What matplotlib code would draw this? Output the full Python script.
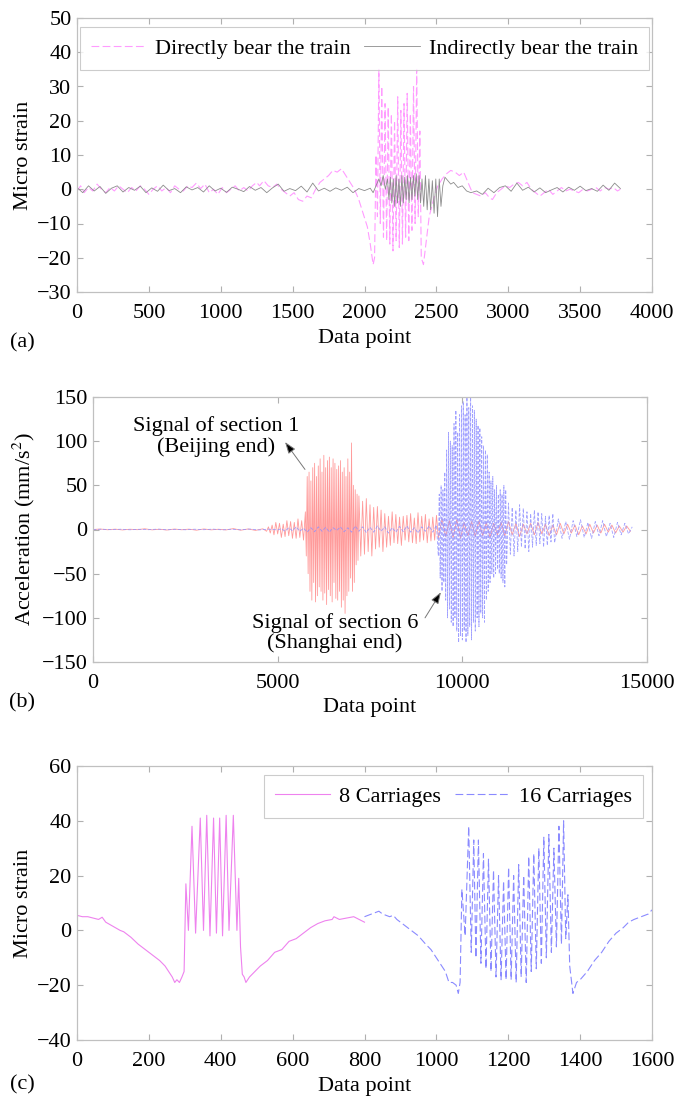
import numpy as np
import matplotlib
matplotlib.use("Agg")
import matplotlib.pyplot as plt

plt.rcParams['font.family'] = ['Liberation Serif', 'DejaVu Serif']
plt.rcParams['mathtext.fontset'] = 'stix'
FS = 16

# ---------------- Panel (a) data ----------------
a_direct_x = [0, 25, 50, 80, 110, 140, 170, 200, 230, 260, 290, 320, 350, 380, 410, 440, 470, 500, 530, 560,
              590, 620, 650, 680, 710, 740, 770, 800, 830, 860, 890, 920, 950, 980, 1010, 1040, 1070, 1100,
              1130, 1160, 1190, 1220, 1250, 1270, 1300, 1330, 1360, 1390, 1420, 1450, 1480, 1510, 1540, 1570,
              1600, 1630, 1660, 1690, 1720, 1750, 1780, 1810, 1840, 1870, 1900, 1930, 1960, 1990, 2020, 2040,
              2060, 2070, 2080, 2090, 2100, 2110, 2120, 2132, 2143, 2154, 2165, 2176, 2187, 2198, 2209, 2220,
              2231, 2242, 2253, 2264, 2275, 2286, 2297, 2308, 2319, 2330, 2341, 2352, 2363, 2374, 2385, 2395,
              2410, 2430, 2450, 2480, 2510, 2540, 2570, 2600, 2630, 2660, 2690, 2720, 2750, 2780, 2810, 2840,
              2870, 2890, 2920, 2950, 2980, 3010, 3040, 3070, 3100, 3130, 3160, 3190, 3220, 3250, 3280, 3310,
              3340, 3370, 3400, 3430, 3460, 3490, 3520, 3550, 3580, 3610, 3640, 3670, 3700, 3730, 3760, 3780]
a_direct_y = [-0.5, 1, -1, 0.5, -0.5, 1.5, 0, -1, 0.5, -0.5, 1, 0, -1, 0.5, -0.5, 1, 0, -1.5, 0, 1,
              -0.5, 0.5, -1, 1, 0, -0.5, 1, 0.5, 1.8, 0.2, 1.5, -1, 0, -1.5, 0.5, -1, 0, 1,
              -0.5, 0.5, -0.5, 1, 2, 1, 2.5, 1, 0.5, 1.5, 0, -1, -2, -1, -3, -3.5,
              -2, -2.5, 0, 2, 3, 4, 5.5, 5, 6, 4, 2, 0, -3, -7, -11, -16,
              -22, -20, 10, -8, 35, -10, 30, -14, 25, -15, 24, -16, 22, -18, 20, -15,
              27, -17, 23, -16, 25, -14, 28, -15, 22, -12, 30, -10, 35, -8, 17, -20,
              -22, -15, -8, -3, 1, 3, 4.5, 5.5, 5, 4, 5, 2, -1, -1.5, -2, -1,
              -2.5, -3, -1, 0, 1, 0.5, 1.5, 2, 1, 2, 0, -1, -2, -1, 0, -1.5,
              -0.5, 0.5, -0.5, 0, -0.5, -1, 0, -0.5, 0, 0.5, -0.5, 0.5, 0, 0.5, -0.5, 0]

a_indirect_x = list(range(0, 2041, 40)) + [
    2060, 2080, 2100, 2115, 2130, 2145, 2160, 2170, 2180, 2190, 2200, 2210, 2220, 2230, 2240, 2250,
    2260, 2270, 2280, 2290, 2300, 2310, 2320, 2330, 2340, 2350, 2360, 2370, 2380, 2390, 2400, 2412,
    2424, 2436, 2448, 2460, 2472, 2484, 2496, 2508, 2520, 2532, 2545, 2560, 2580, 2600, 2620, 2650,
    2680, 2710, 2740] + list(range(2780, 3781, 40))
a_indirect_y = [0.5, -1, 1, -0.5, 0.8, -1.2, 0.3, 1, -0.8, 0.5, -0.3, 0.9, -1, 0.4, -0.6, 1.2, -0.4, 0.2,
                -1, 0.7, -0.2, 0.5, -0.8, 1, -0.5, 0.3, -0.9, 0.6, 0, -0.7, 0.8, -0.3, 0.5, -1, 0.4, 1.5,
                -0.6, 0.2, -0.4, 0.9, -0.8, 1.8, -0.5, 0.3, -0.6, 0.4, -0.3, 0.6, -1, 0.2, -0.4, 0.3] + [
    -1, 1, 3, 1, 4, 0, 3, -3, 3.5, -4, 3, -5, 4, -4, 3, -5,
    4, -4, 3.5, -3, 4, -4, 3.5, -3, 4, -2, 4.5, -3, 4, -4, 3, -5,
    4, -6, 3, -6, 2.5, -7, 3, -8, 3, -5, 1, 3.5, 2.5, 1.5, 2, 0.5,
    1, -0.5, -1] + [-0.5, -1.5, 0.3, -1, 0.5, 1, -0.6, 1.8, -0.3, 0.6, -0.8, 0.4, -1, -0.2, 0.5,
                    -0.8, 0.6, -0.3, 0.9, -0.4, 0.2, -0.6, 1.2, -0.3, 1.8, 0.2]

# ---------------- Panel (b) data (segments: start, step, values) ----------------
b_sec1_segments = [
    (0, 200, [0, 0.5, -0.3, 0.4, -0.5, 0.3, -0.2, 0.8, -0.4, 0.3, -0.6, 0.5, -0.3, 0.4, -0.8, 0.6,
              -0.4, 0.3, -0.5, 1, -0.8, 0.6, -1, 0.8]),
    (4700, 50, [-2, 3, -4, 5, -6, 8, -5, 7, -9, 6, -8, 10, -7, 9, -10, 8, -10, 12, -9, 10, -12]),
    (5750, 25, [20, -30, 60, -50, 65, -70, 55, -80, 70, -60, 75, -82, 60, -75, 72, -65, 80, -70, 65, -80,
                84, -72, 70, -85, 78, -68, 82, -75, 70, -82, 80, -60, 75, -78, 68, -80, 72, -70, 78, -88,
                65, -80, 70, -95, 60, -75, 80, -70, 65, -55, 98, -70, 50, -60, 45, -40, 40, -35, 38]),
    (7250, 50, [-30, 32, -28, 35, -25, 28, -30, 25, -22, 26, -20, 22, -25, 18, -20, 15, -18, 20, -15, 17,
                -16, 14, -18, 15, -12, 16, -14, 18, -15, 13, -16, 19, -14, 15, -12, 17, -15, 12, -13, 14,
                -12, 16]),
    (9350, 100, [-10, 12, -8, 10, -9, 11, -10, 8, -7, 9, -8, 10, -7, 8, -9, 7, -6, 8, -7, 9, -6, 7, -8, 6,
                 -5, 7, -6, 8, -5, 6, -7, 5, -6, 7, -5, 6, -4, 5, -6, 4, -5, 6, -4, 5, -4, 6, -3, 5, -4,
                 4, -3, 4, -2]),
]
b_sec6_segments = [
    (0, 250, [0, 0.3, -0.2, 0.3, -0.3, 0.2, -0.2, 0.4, -0.3, 0.2, -0.3, 0.3, -0.2, 0.4, -0.4, 0.3, -0.3,
              0.5, -0.5, 0.4, -0.5]),
    (5100, 100, [1, -2, 2, -1.5, 3, -2, 1.5, -3, 2, -2.5, 3, -2, 2.5, -3, 2, -1, 3, -2.5, 2, -3, 4, -2, 3,
                 -3.5, 2.5, -3, 4, -2, 3, -4, 2, -3, 3.5, -2.5, 4, -3, 2, -4, 3, -2, 4, -3, 5]),
    (9350, 25, [-30, 40, -55, 50, -70, 45, -60, 65, -80, 90, -100, 110, -90, 100, -105, 95, -110, 120, -100,
                135, -115, 110, -128, 130, -120, 140, -125, 145, -115, 130, -128, 150, -120, 138, -110, 150,
                -125, 140, -105, 135, -115, 125, -100, 118, -110, 115, -95, 105, -100, 95, -105, 90, -80, 85,
                -70, 65, -60, 55, -50, 60, -55, 45, -50, 50, -45, 40, -50, 45, -55, 40, -60, 50, -65, 45, -40]),
    (11250, 50, [30, -28, 25, -30, 22, -25, 28, -20, 24, -22, 20, -25, 18, -20, 22, -18, 20, -16, 18, -20,
                 15, -18, 16, -14, 18, -15]),
    (12600, 100, [12, -10, 9, -11, 10, -8, 11, -9, 8, -10, 9, -7, 10, -8, 7, -9, 8, -6, 7, -5, 3]),
]

# ---------------- Panel (c) data ----------------
c_8_x = [0, 15, 30, 45, 60, 70, 80, 100, 120, 130, 150, 170, 190, 210, 230, 245, 255, 265, 272, 278, 285,
         292, 298, 303, 310, 320, 330, 343, 352, 361, 370, 380, 388, 397, 405, 415, 423, 435, 445, 450, 455,
         460, 465, 470, 480, 495, 510, 530, 550, 570, 590, 610, 630, 650, 670, 690, 710, 715, 730, 750, 770,
         785, 800]
c_8_y = [5.5, 5, 5, 4.5, 4, 4.8, 3, 1.5, 0, -0.5, -2.5, -5, -7, -9, -11, -13, -15, -17, -19, -18, -19,
         -17, -15, 17, 0, 38, -1, 41, 0, 42, -2, 41, -1, 41, -2, 42, 0, 42, 0, 19, -6,
         -16, -17, -19, -17, -15, -13, -11, -8, -7, -4, -3, -1, 1, 2.5, 3.5, 4, 5, 4, 4.5, 5,
         4, 3]
c_16_x = [800, 820, 840, 850, 870, 880, 890, 910, 930, 950, 970, 985, 1000, 1015, 1025, 1035, 1045, 1055,
          1061, 1066, 1071, 1080, 1090, 1097, 1104, 1110, 1117, 1124, 1131, 1138, 1145, 1152, 1159, 1166,
          1173, 1180, 1187, 1194, 1201, 1208, 1215, 1222, 1229, 1236, 1243, 1250, 1257, 1264, 1271, 1278,
          1285, 1292, 1299, 1306, 1313, 1320, 1327, 1334, 1341, 1348, 1354, 1360, 1366, 1371, 1380, 1390,
          1400, 1420, 1440, 1460, 1480, 1500, 1520, 1535, 1550, 1570, 1590, 1600]
c_16_y = [5, 6, 7, 6, 5, 5.5, 4, 2, 0, -2, -5, -7, -10, -13, -15, -19, -19, -20,
          -23, -19, 15, -2, 38, -8, 33, -10, 33, -12, 28, -14, 26, -15, 22, -17,
          20, -18, 18, -18, 23, -18, 20, -19, 24, -17, 20, -19, 27, -15, 28, -14,
          30, -12, 34, -10, 35, -8, 30, -6, 38, -5, 40, -3, 13, -13, -23, -19,
          -18, -15, -11, -8, -4, -1, 1, 3, 4, 5, 6, 7.5]


def seg_xy(segments):
    xs, ys = [], []
    for start, step, vals in segments:
        xs += [start + step * i for i in range(len(vals))]
        ys += vals
    return xs, ys


def style_axes(ax):
    for s in ax.spines.values():
        s.set_color('#c0c0c0')
        s.set_linewidth(0.9)
    ax.tick_params(direction='in', length=4, width=0.8, color='#b0b0b0',
                   top=True, right=True, labelsize=FS)
    ax.tick_params(axis='x', pad=9)
    ax.tick_params(axis='y', pad=4)


def style_legend(leg):
    leg.get_frame().set_edgecolor('#c0c0c0')
    leg.get_frame().set_linewidth(0.8)


fig = plt.figure(figsize=(6.76, 10.99), dpi=100)
W, H = 676, 1099


def add_ax(l, r, t, b):
    return fig.add_axes([l / W, (H - b) / H, (r - l) / W, (b - t) / H])


leg_kw = dict(ncol=2, fontsize=FS, frameon=True, fancybox=False, handlelength=2.5,
              columnspacing=0.6, handletextpad=0.4, borderaxespad=0.4, borderpad=0.5)

# ---- (a)
ax1 = add_ax(77, 652, 18, 292)
ax1.plot(a_direct_x, a_direct_y, color='#ff9cff', lw=0.8, dashes=(7, 3), label='Directly bear the train')
ax1.plot(a_indirect_x, a_indirect_y, color='#8c8c8c', lw=0.6, label='Indirectly bear the train')
ax1.set_xlim(0, 4000)
ax1.set_ylim(-30, 50)
ax1.set_xticks(range(0, 4001, 500))
ax1.set_yticks(range(-30, 51, 10))
style_axes(ax1)
ax1.set_ylabel('Micro strain', fontsize=FS, labelpad=3)
ax1.set_xlabel('Data point', fontsize=FS, labelpad=4)
style_legend(ax1.legend(loc='upper center', **leg_kw))
fig.text(22 / W, 1 - 343 / H, '(a)', fontsize=FS, ha='center', va='center')

# ---- (b)
ax2 = add_ax(93, 647, 397, 662)
bx1, by1 = seg_xy(b_sec1_segments)
bx6, by6 = seg_xy(b_sec6_segments)
ax2.plot(bx1, by1, color='#ff9a9a', lw=0.6)
ax2.plot(bx6, by6, color='#9090ff', lw=0.6, dashes=(4, 2), alpha=0.85)
ax2.set_xlim(0, 15000)
ax2.set_ylim(-150, 150)
ax2.set_xticks(range(0, 15001, 5000))
ax2.set_yticks(range(-150, 151, 50))
style_axes(ax2)
ax2.set_ylabel('Acceleration (mm/s$^2$)', fontsize=FS, labelpad=3)
ax2.set_xlabel('Data point', fontsize=FS, labelpad=3)
ap = dict(arrowstyle='-|>,head_length=0.7,head_width=0.25', fc='black', ec='#777777', lw=0.7,
          shrinkA=0, shrinkB=0)
ax2.annotate('', xy=(5200, 99), xytext=(5740, 68), arrowprops=ap)
ax2.text(3330, 105, 'Signal of section 1\n(Beijing end)', fontsize=FS, ha='center', va='center',
         linespacing=1.05)
ax2.annotate('', xy=(9420, -71), xytext=(8990, -100), arrowprops=ap)
ax2.text(6550, -117, 'Signal of section 6\n(Shanghai end)', fontsize=FS, ha='center', va='center',
         linespacing=1.05)
fig.text(22 / W, 1 - 703 / H, '(b)', fontsize=FS, ha='center', va='center')

# ---- (c)
ax3 = add_ax(77, 652, 766, 1040)
ax3.plot(c_8_x, c_8_y, color='#ee82ee', lw=0.8, label='8 Carriages')
ax3.plot(c_16_x, c_16_y, color='#8a8aff', lw=0.8, dashes=(7, 3), label='16 Carriages')
ax3.set_xlim(0, 1600)
ax3.set_ylim(-40, 60)
ax3.set_xticks(range(0, 1601, 200))
ax3.set_yticks(range(-40, 61, 20))
style_axes(ax3)
ax3.set_ylabel('Micro strain', fontsize=FS, labelpad=3)
ax3.set_xlabel('Data point', fontsize=FS, labelpad=4)
style_legend(ax3.legend(loc='upper right', **leg_kw))
fig.text(22 / W, 1 - 1085 / H, '(c)', fontsize=FS, ha='center', va='center')

fig.savefig('out.png', dpi=100)
